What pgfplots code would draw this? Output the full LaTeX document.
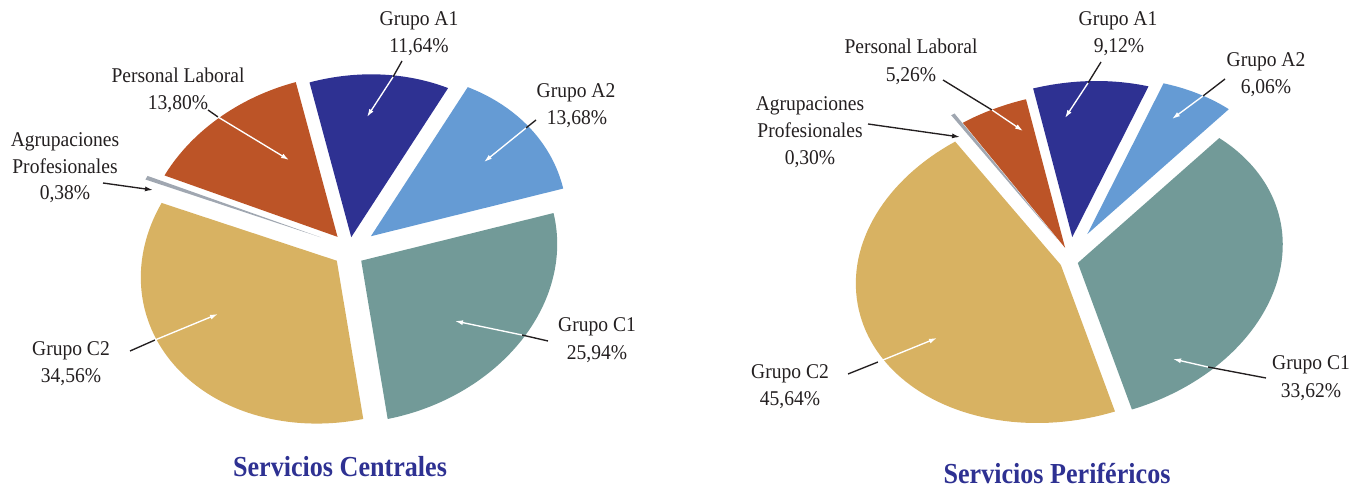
\documentclass[border=0pt]{standalone}
\usepackage{pgfplots}
\pgfplotsset{compat=1.18}
\usepackage{fontspec}
\setmainfont{Liberation Serif}[FakeStretch=0.93]
\newfontfamily\titlefont{Liberation Serif}[FakeStretch=0.9]
\usetikzlibrary{arrows.meta}
\definecolor{cA1}{HTML}{2E3192}
\definecolor{cA2}{HTML}{659BD4}
\definecolor{cC1}{HTML}{729A98}
\definecolor{cC2}{HTML}{D8B262}
\definecolor{cAP}{HTML}{A0A7B1}
\definecolor{cPL}{HTML}{BC5427}
\definecolor{txt}{HTML}{231F20}

% cx, cy, rx, ry (upper), ry (lower), shear, start angle, list value/explode/colour
\newcommand{\drawpie}[8]{%
  \xdef\pieang{#7}%
  \foreach \pv/\pe/\pc in {#8} {%
    \pgfmathsetmacro\aone{\pieang}%
    \pgfmathsetmacro\atwo{\pieang-3.6*\pv}%
    \pgfmathsetmacro\amid{(\aone+\atwo)/2}%
    \pgfmathsetmacro\ox{#1+\pe*cos(\amid)}%
    \pgfmathsetmacro\oy{#2+\pe*sin(\amid)}%
    \pgfmathsetmacro\sy{#6*#3}%
    \begin{scope}[shift={(axis cs:\ox,\oy)}, x=1pt, y=1pt]
      \fill[\pc] (0,0) -- plot[domain=\aone:\atwo, samples=80, variable=\t] ({#3*cos(\t)},{\sy*cos(\t)+(sin(\t)>0 ? #4 : #5)*sin(\t)}) -- cycle;
    \end{scope}
    \xdef\pieang{\atwo}%
  }%
}
\newcommand{\larrow}[6]{%
  \draw[line width=1.35pt, color=txt] (axis cs:#1,#2) -- (axis cs:#3,#4);
  \draw[line width=1.35pt, white, -{Latex[length=8pt,width=5pt]}] (axis cs:#3,#4) -- (axis cs:#5,#6);
}
\newcommand{\barrow}[4]{%
  \draw[line width=1.35pt, color=txt, -{Latex[length=8pt,width=5pt]}] (axis cs:#1,#2) -- (axis cs:#3,#4);
}
\tikzset{lab/.style={anchor=base, inner sep=0pt, text=txt, font=\fontsize{21}{25}\selectfont},
         ttl/.style={anchor=base, inner sep=0pt, text=cA1, font=\fontsize{29}{33}\selectfont\titlefont\bfseries}}

\begin{document}
\begin{tikzpicture}
\begin{axis}[width=1367pt, height=488pt, scale only axis,
  xmin=0, xmax=1367, ymin=0, ymax=488, hide axis, clip=false]
\addplot[draw=none] coordinates {(0,0)};
\pgfplotsextra{%
  \drawpie{349}{236}{196}{162}{162}{0.085}{102.3}{11.64/15/cA1, 13.68/27/cA2, 25.94/15/cC1, 34.56/15/cC2, 0.38/32/cAP, 13.80/19/cPL}%
  \drawpie{1070}{227}{205}{155}{157}{0.09}{101}{9.12/24/cA1, 6.06/32/cA2, 33.62/8/cC1, 45.64/10/cC2, 0.30/26/cAP, 5.26/14/cPL}%
}
% left arrows
\larrow{402}{427}{393}{411}{367}{371}
\larrow{536}{368}{526}{360}{484}{326}
\larrow{208}{378}{218}{371}{289}{328}
\barrow{103}{305}{153}{298}
\larrow{548}{147}{522}{153}{455}{167}
\larrow{130}{137}{155}{148}{218}{174}
% right arrows
\larrow{1101}{426}{1088}{405}{1065}{370}
\larrow{1225}{409}{1203}{392}{1172}{369}
\larrow{943}{408}{992}{378}{1023}{357}
\barrow{868}{364}{960}{351}
\larrow{1266}{110}{1208}{121}{1173}{129}
\larrow{848}{114}{878}{126}{937}{150}
% left labels
\node[lab] at (axis cs:419,462) {Grupo A1};
\node[lab] at (axis cs:419,435) {11,64\%};
\node[lab] at (axis cs:576,390) {Grupo A2};
\node[lab] at (axis cs:577,363) {13,68\%};
\node[lab] at (axis cs:178,405) {Personal Laboral};
\node[lab] at (axis cs:178,378) {13,80\%};
\node[lab] at (axis cs:65,341) {Agrupaciones};
\node[lab] at (axis cs:65,314) {Profesionales};
\node[lab] at (axis cs:65,288) {0,38\%};
\node[lab] at (axis cs:71,133) {Grupo C2};
\node[lab] at (axis cs:71,106) {34,56\%};
\node[lab] at (axis cs:597,157) {Grupo C1};
\node[lab] at (axis cs:597,129) {25,94\%};
\node[ttl] at (axis cs:340,12) {Servicios Centrales};
% right labels
\node[lab] at (axis cs:1118,462) {Grupo A1};
\node[lab] at (axis cs:1119,435) {9,12\%};
\node[lab] at (axis cs:1266,421) {Grupo A2};
\node[lab] at (axis cs:1266,394) {6,06\%};
\node[lab] at (axis cs:911,434) {Personal Laboral};
\node[lab] at (axis cs:911,406) {5,26\%};
\node[lab] at (axis cs:810,377) {Agrupaciones};
\node[lab] at (axis cs:810,350) {Profesionales};
\node[lab] at (axis cs:810,323) {0,30\%};
\node[lab] at (axis cs:790,110) {Grupo C2};
\node[lab] at (axis cs:790,83) {45,64\%};
\node[lab] at (axis cs:1311,119) {Grupo C1};
\node[lab] at (axis cs:1311,91) {33,62\%};
\node[ttl] at (axis cs:1057,5) {Servicios Periféricos};
\end{axis}
\pgfresetboundingbox
\path[use as bounding box] (current axis.south west) rectangle (current axis.north east);
\end{tikzpicture}
\end{document}
